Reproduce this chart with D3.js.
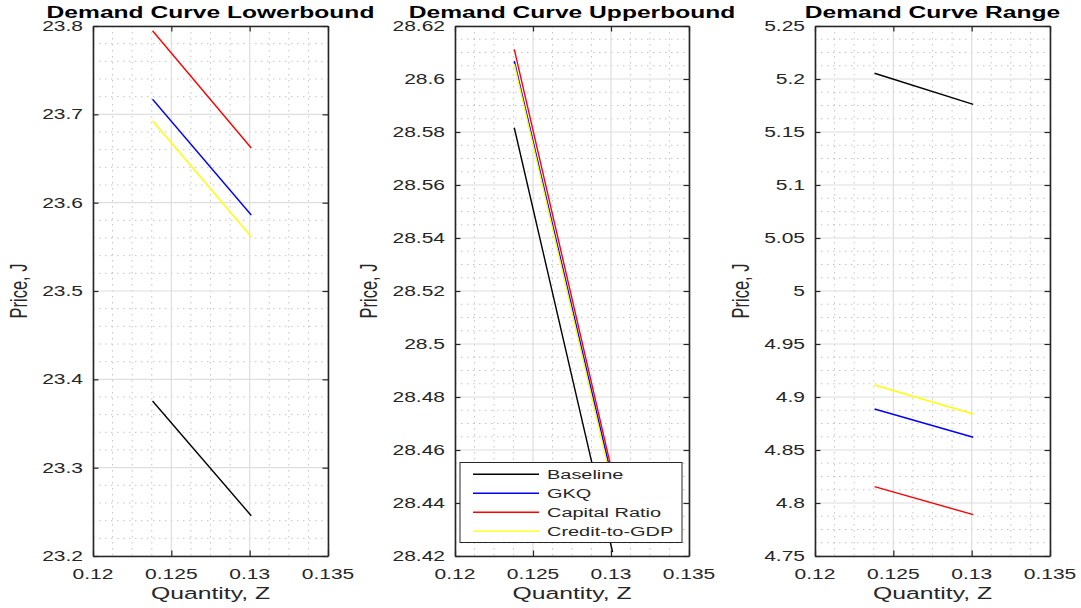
<!DOCTYPE html>
<html><head><meta charset="utf-8">
<script src="https://cdn.jsdelivr.net/npm/d3@7"></script>
<style>body{margin:0;background:#fff;} text{font-family:"Liberation Sans",Arial,Helvetica,sans-serif;fill:#262626;}</style>
</head><body>
<svg id="chart" width="1081" height="608"></svg>
<script>
// ---- data ----
const seriesNames = ["Baseline", "GKQ", "Capital Ratio", "Credit-to-GDP"];
const seriesColors = ["#000000", "#0000ff", "#ff0000", "#ffff00"];
const quantity = [0.1238, 0.1301];
const lowerBaseline = [23.3755, 23.2456];
const lowerGKQ = [23.717, 23.586];
const lowerCapital = [23.7947, 23.6619];
const lowerCredit = [23.6928, 23.5614];
const upperBaseline = [28.5816, 28.4215];
const upperGKQ = [28.6068, 28.4485];
const upperCapital = [28.6112, 28.451];
const upperCredit = [28.6056, 28.446];
const rangeBaseline = [5.2054, 5.1761];
const rangeGKQ = [4.8887, 4.862];
const rangeCapital = [4.8154, 4.789];
const rangeCredit = [4.9113, 4.884];
const xTicks = [0.12, 0.125, 0.13, 0.135];
const yTicksLower = [23.2, 23.3, 23.4, 23.5, 23.6, 23.7, 23.8];
const yTicksUpper = [28.42, 28.44, 28.46, 28.48, 28.5, 28.52, 28.54, 28.56, 28.58, 28.6, 28.62];
const yTicksRange = [4.75, 4.8, 4.85, 4.9, 4.95, 5, 5.05, 5.1, 5.15, 5.2, 5.25];
const titles = ["Demand Curve Lowerbound", "Demand Curve Upperbound", "Demand Curve Range"];

const panels = [
  {title: titles[0], series: [lowerBaseline, lowerGKQ, lowerCapital, lowerCredit], yTicks: yTicksLower, minorStep: 0.02, left: 93, right: 328, legend: false},
  {title: titles[1], series: [upperBaseline, upperGKQ, upperCapital, upperCredit], yTicks: yTicksUpper, minorStep: 0.005, left: 455, right: 689, legend: true},
  {title: titles[2], series: [rangeBaseline, rangeGKQ, rangeCapital, rangeCredit], yTicks: yTicksRange, minorStep: 0.0125, left: 815, right: 1050, legend: false}
];

const SX = 1.5; // horizontal text stretch
const plotTop = 26, plotBottom = 556;
const svg = d3.select("#chart");
const axisColor = "#262626";

function stext(g, x, y, str, opts) {
  opts = opts || {};
  const t = g.append("text")
    .attr("transform", `translate(${x},${y}) scale(${SX},1)` + (opts.rotate ? " rotate(-90)" : ""))
    .attr("text-anchor", opts.anchor || "start")
    .style("font-size", (opts.size || 14) + "px")
    .text(str);
  if (opts.bold) t.style("font-weight", "bold").style("fill", "#000");
  if (opts.dy) t.attr("dy", opts.dy);
  return t;
}

function steps(a, b, step) {
  const out = []; const n = Math.round((b - a) / step);
  for (let i = 0; i <= n; i++) out.push(a + i * step);
  return out;
}

panels.forEach((p, pi) => {
  const yDom = [p.yTicks[0], p.yTicks[p.yTicks.length - 1]];
  const majorStep = p.yTicks[1] - p.yTicks[0];
  const x = d3.scaleLinear().domain([0.12, 0.135]).range([p.left, p.right]);
  const y = d3.scaleLinear().domain(yDom).range([plotBottom, plotTop]);
  const g = svg.append("g");
  const W = p.right - p.left;

  // minor grid
  const xMinor = steps(0.12, 0.135, 0.00125).filter((v, i) => i % 4 !== 0);
  const yMinor = steps(yDom[0], yDom[1], p.minorStep).filter(v => {
    const r = (v - yDom[0]) / majorStep;
    return Math.abs(r - Math.round(r)) > 1e-6;
  });
  g.selectAll(".mx").data(xMinor).join("line")
    .attr("x1", d => x(d)).attr("x2", d => x(d)).attr("y1", plotTop).attr("y2", plotBottom)
    .attr("stroke", "#c4c4c4").attr("stroke-width", 1).attr("stroke-dasharray", "1.5,4.5");
  g.selectAll(".my").data(yMinor).join("line")
    .attr("y1", d => y(d)).attr("y2", d => y(d)).attr("x1", p.left).attr("x2", p.right)
    .attr("stroke", "#c4c4c4").attr("stroke-width", 1).attr("stroke-dasharray", "1.5,4.5");
  // major grid
  g.selectAll(".gx").data(xTicks).join("line")
    .attr("x1", d => x(d)).attr("x2", d => x(d)).attr("y1", plotTop).attr("y2", plotBottom)
    .attr("stroke", "#dedede").attr("stroke-width", 1.2);
  g.selectAll(".gy").data(p.yTicks).join("line")
    .attr("y1", d => y(d)).attr("y2", d => y(d)).attr("x1", p.left).attr("x2", p.right)
    .attr("stroke", "#dedede").attr("stroke-width", 1.2);

  // data lines
  const clipId = "clip" + pi;
  svg.append("clipPath").attr("id", clipId).append("rect")
    .attr("x", p.left).attr("y", plotTop).attr("width", W).attr("height", plotBottom - plotTop);
  const line = d3.line().x(d => x(d[0])).y(d => y(d[1]));
  p.series.forEach((s, si) => {
    g.append("path").datum(quantity.map((q, i) => [q, s[i]]))
      .attr("d", line).attr("fill", "none").attr("stroke", seriesColors[si])
      .attr("stroke-width", 1.4).attr("clip-path", `url(#${clipId})`);
  });

  // axes with inward ticks on all sides
  const tl = 5.5;
  const axB = g.append("g").attr("transform", `translate(0,${plotBottom})`)
    .call(d3.axisBottom(x).tickValues(xTicks).tickSizeInner(-tl).tickSizeOuter(0).tickFormat(""));
  const axT = g.append("g").attr("transform", `translate(0,${plotTop})`)
    .call(d3.axisTop(x).tickValues(xTicks).tickSizeInner(-tl).tickSizeOuter(0).tickFormat(""));
  const axL = g.append("g").attr("transform", `translate(${p.left},0)`)
    .call(d3.axisLeft(y).tickValues(p.yTicks).tickSizeInner(-tl).tickSizeOuter(0).tickFormat(""));
  const axR = g.append("g").attr("transform", `translate(${p.right},0)`)
    .call(d3.axisRight(y).tickValues(p.yTicks).tickSizeInner(-tl).tickSizeOuter(0).tickFormat(""));
  [axB, axT, axL, axR].forEach(a => {
    a.selectAll("path.domain").attr("stroke", axisColor).attr("stroke-width", 1.6);
    a.selectAll(".tick line").attr("stroke", axisColor).attr("stroke-width", 1.2);
  });

  // tick labels
  let maxW = 0;
  p.yTicks.forEach(v => {
    const t = stext(g, p.left - 10, y(v), String(+v.toFixed(4)), {anchor: "end", size: 14, dy: "0.36em"});
    maxW = Math.max(maxW, t.node().getComputedTextLength() * SX);
  });
  xTicks.forEach(v => {
    stext(g, x(v), 579, String(v), {anchor: "middle", size: 14});
  });

  // labels
  stext(g, (p.left + p.right) / 2, 599, "Quantity, Z", {anchor: "middle", size: 16.5});
  stext(g, p.left - 10 - maxW - 15, (plotTop + plotBottom) / 2, "Price, J", {anchor: "middle", size: 16.5, rotate: true});
  stext(g, (p.left + p.right) / 2, 17.5, p.title, {anchor: "middle", size: 16.4, bold: true});

  // legend
  if (p.legend) {
    const lg = g.append("g");
    const lx = 460, ly = 462.5, lw = 222, lh = 80;
    lg.append("rect").attr("x", lx).attr("y", ly).attr("width", lw).attr("height", lh)
      .attr("fill", "#fff").attr("stroke", axisColor).attr("stroke-width", 1);
    seriesNames.forEach((n, i) => {
      const ry = 474.3 + i * 18.95;
      lg.append("line").attr("x1", 473).attr("x2", 539).attr("y1", ry).attr("y2", ry)
        .attr("stroke", seriesColors[i]).attr("stroke-width", 1.4);
      stext(lg, 547, ry, n, {size: 13.3, dy: "0.36em"});
    });
  }
});
</script>
</body></html>
